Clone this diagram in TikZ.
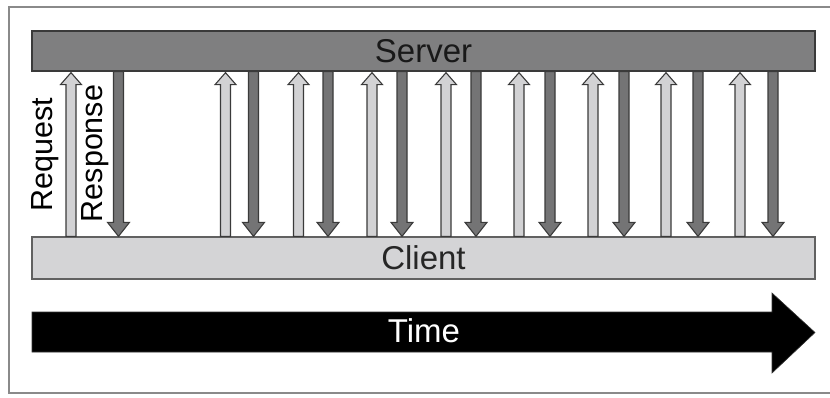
\documentclass[tikz,border=0pt]{standalone}
\usepackage{fontspec}
\setmainfont{Liberation Sans}
\usetikzlibrary{calc}
\definecolor{srvfill}{HTML}{7F7F80}
\definecolor{clifill}{HTML}{D4D4D6}
\definecolor{reqfill}{HTML}{D2D2D4}
\definecolor{resfill}{HTML}{747475}
\definecolor{edge}{HTML}{3A3A3A}
\definecolor{framec}{HTML}{8A8A8A}
\tikzset{
  bar/.style={draw=edge, line width=1.3pt, inner sep=0pt, minimum width=783pt,
    font=\fontsize{33}{33}\selectfont},
  reqarr/.style={draw=edge, fill=reqfill, line width=1.1pt, line join=miter},
  resarr/.style={draw=edge, fill=resfill, line width=1.1pt, line join=miter},
  lbl/.style={rotate=90, inner sep=0pt, font=\fontsize{30.5}{30.5}\selectfont},
  timearr/.style={fill=black, draw=black!80, line width=0.6pt}
}
\newcommand\reqarrow[1]{%
  \draw[reqarr] ($(#1,0 |- cl.north)+(-5,0)$) -- ($(#1,0 |- srv.south)+(-5,13)$)
    -- ($(#1,0 |- srv.south)+(-10.5,13)$) -- ($(#1,0 |- srv.south)+(0,1)$)
    -- ($(#1,0 |- srv.south)+(10.5,13)$) -- ($(#1,0 |- srv.south)+(5,13)$)
    -- ($(#1,0 |- cl.north)+(5,0)$) -- cycle;}
\newcommand\resarrow[1]{%
  \draw[resarr] ($(#1,0 |- srv.south)+(-5,0)$) -- ($(#1,0 |- cl.north)+(-5,-14)$)
    -- ($(#1,0 |- cl.north)+(-11,-14)$) -- ($(#1,0 |- cl.north)+(0,0)$)
    -- ($(#1,0 |- cl.north)+(11,-14)$) -- ($(#1,0 |- cl.north)+(5,-14)$)
    -- ($(#1,0 |- srv.south)+(5,0)$) -- cycle;}
\begin{document}
\begin{tikzpicture}[x=1pt, y=-1pt]
\useasboundingbox (0,0) rectangle (830,397);
\draw[framec, line width=1.8pt] (850,7) -- (9,7) -- (9,393) -- (850,393);
\node[bar, fill=srvfill, minimum height=40pt, text=black!90] (srv) at (423.5,51) {Server};
\node[bar, fill=clifill, minimum height=42pt, draw=edge!80, text=black!85] (cl) at (423.5,258) {Client};
\reqarrow{71}
\resarrow{118.5}
\foreach \c/\d in {225.5/253.5, 298.5/328, 372/402, 446/476, 519/550, 593/624, 666/698, 740/773}{
  \reqarrow{\c}
  \resarrow{\d}
}
\node[lbl] (req) at (45,155) {Request};
\node[lbl] (res) at (95.5,153.5) {Response};
\draw[timearr] (32,312) -- (772,312) -- (772,293) -- (815,332.5) -- (772,373) -- (772,352) -- (32,352) -- cycle;
\node[text=white, font=\fontsize{33}{33}\selectfont, inner sep=0pt] (time) at (424,331) {Time};
\end{tikzpicture}
\end{document}
